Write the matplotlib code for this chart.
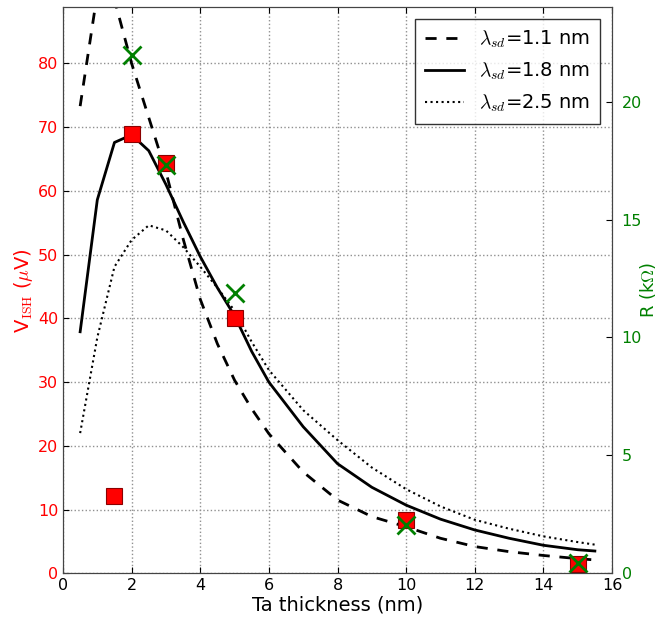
import numpy as np
import matplotlib
matplotlib.use("Agg")
import matplotlib.pyplot as plt

plt.rcParams['mathtext.fontset'] = 'cm'
plt.rcParams['mathtext.rm'] = 'DejaVu Sans'

# model curves
t_fit = [0.5, 1.0, 1.5, 2.0, 2.5, 3.0, 3.5, 4.0, 4.5, 5.0, 5.5, 6.0, 7.0, 8.0,
         9.0, 10.0, 11.0, 12.0, 13.0, 14.0, 15.0, 15.5]
v_11 = [73.3, 91.0, 90.0, 80.0, 71.5, 63.0, 52.5, 43.0, 36.0, 30.3, 25.8, 21.9,
        15.9, 11.5, 8.9, 7.3, 5.5, 4.2, 3.4, 2.8, 2.3, 2.1]
v_18 = [37.9, 58.6, 67.6, 68.8, 66.3, 61.0, 55.2, 49.7, 44.8, 40.4, 34.8, 30.0,
        23.0, 17.2, 13.5, 10.7, 8.5, 6.8, 5.5, 4.4, 3.7, 3.5]
v_25 = [22.0, 37.0, 48.1, 52.3, 54.6, 53.8, 51.2, 48.1, 44.8, 41.2, 36.3, 31.9,
        25.6, 20.9, 16.6, 13.2, 10.5, 8.4, 7.0, 5.8, 4.9, 4.5]

# measured points
t_v = [1.5, 2, 3, 5, 10, 15]
v_ish = [12.2, 68.9, 64.3, 40.0, 8.4, 1.5]
t_r = [2, 3, 5, 10, 15]
r_k = [22.0, 17.3, 11.9, 2.05, 0.42]

fig = plt.figure(figsize=(6.61, 6.17), dpi=100)
ax = fig.add_axes([0.0953, 0.0708, 0.8306, 0.9173])

ax.plot(t_fit, v_11, 'k--', lw=2, dashes=(4, 3.5), label=r'$\lambda_{sd}$=1.1 nm')
ax.plot(t_fit, v_18, 'k-', lw=2, label=r'$\lambda_{sd}$=1.8 nm')
ax.plot(t_fit, v_25, 'k:', lw=1.5, label=r'$\lambda_{sd}$=2.5 nm')
ax.plot(t_v, v_ish, 's', color='red', mec='#8b0000', ms=12, mew=0.8)

ax.set_xlim(0, 16)
ax.set_ylim(0, 88.8)
ax.set_xticks(range(0, 17, 2))
ax.set_yticks(range(0, 81, 10))
ax.grid(True, ls=':', color='#909090', lw=1)
ax.tick_params(direction='in', top=True, labelsize=11.5, length=4)
for lab in ax.get_yticklabels():
    lab.set_color('red')
ax.set_xlabel('Ta thickness (nm)', fontsize=14, labelpad=2)
ax.set_ylabel(r'V$_{\mathrm{ISH}}$ ($\mu$V)', fontsize=14, color='red', labelpad=2)

leg = ax.legend(loc='upper right', fontsize=14, frameon=True, fancybox=False,
                handlelength=2.0, borderaxespad=0.6, labelspacing=0.55,
                borderpad=0.5)
leg.get_frame().set_edgecolor('black')
leg.get_frame().set_linewidth(1)

ax2 = ax.twinx()
ax2.plot(t_r, r_k, 'x', color='green', ms=13, mew=2)
ax2.set_ylim(0, 24)
ax2.set_yticks(range(0, 21, 5))
ax2.tick_params(direction='in', labelsize=11.5, length=4, pad=7,
                labelcolor='green')
ax2.set_ylabel(r'R (k$\Omega$)', fontsize=13, color='green', labelpad=-3)

for a in (ax, ax2):
    for s in a.spines.values():
        s.set_color('#444444')

fig.savefig('out.png', dpi=100)
